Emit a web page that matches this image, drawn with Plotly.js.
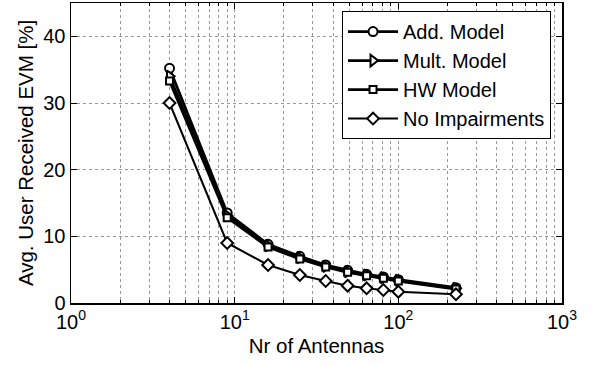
<!DOCTYPE html>
<html>
<head>
<meta charset="utf-8">
<script src="https://cdn.plot.ly/plotly-3.0.1.min.js"></script>
<style>html,body{margin:0;padding:0;background:#fff;}#chart{width:592px;height:366px;}</style>
</head>
<body>
<div id="chart"></div>
<script>
const antennas = [4, 9, 16, 25, 36, 49, 64, 81, 100, 225];
const addModel = [35.2, 13.5, 8.8, 7.0, 5.7, 4.9, 4.3, 3.9, 3.5, 2.3];
const multModel = [34.0, 13.1, 8.6, 6.8, 5.5, 4.7, 4.2, 3.8, 3.4, 2.2];
const hwModel = [33.3, 12.8, 8.4, 6.6, 5.4, 4.6, 4.1, 3.7, 3.3, 2.1];
const noImpairments = [30.0, 9.0, 5.7, 4.2, 3.3, 2.6, 2.2, 1.95, 1.7, 1.3];

const seriesNames = ['Add. Model', 'Mult. Model', 'HW Model', 'No Impairments'];
const xTickVals = [1, 10, 100, 1000];
const xTickText = ['10<sup>0</sup>', '10<sup>1</sup>', '10<sup>2</sup>', '10<sup>3</sup>'];
const xMinorVals = [2,3,4,5,6,7,8,9,20,30,40,50,60,70,80,90,200,300,400,500,600,700,800,900];
const yTickVals = [0, 10, 20, 30, 40];

const FONT = 'Liberation Sans, Arial, Helvetica, sans-serif';

function mk(name, y, symbol, lw, ms) {
  return {
    x: antennas, y: y, name: name, type: 'scatter', mode: 'lines+markers',
    line: {color: '#000', width: lw, dash: 'solid'},
    marker: {symbol: symbol, size: ms, color: '#fff', line: {color: '#000', width: 2}}
  };
}

const data = [
  mk(seriesNames[0], addModel, 'circle', 2.8, 9),
  mk(seriesNames[1], multModel, 'triangle-right', 2.8, 10),
  mk(seriesNames[2], hwModel, 'square', 2.8, 7),
  mk(seriesNames[3], noImpairments, 'diamond', 2, 9)
];

const layout = {
  width: 592, height: 366,
  margin: {l: 71, r: 30, t: 3, b: 63},
  paper_bgcolor: '#fff', plot_bgcolor: '#fff',
  font: {family: FONT, size: 20, color: '#000'},
  showlegend: true,
  legend: {
    x: 0.552, y: 0.973, xanchor: 'left', yanchor: 'top',
    bgcolor: '#fff', bordercolor: '#000', borderwidth: 1,
    font: {family: FONT, size: 20, color: '#000'},
    itemwidth: 50,
    tracegroupgap: 0
  },
  xaxis: {
    type: 'log', range: [0, 3],
    tickvals: xTickVals, ticktext: xTickText,
    ticks: 'inside', ticklen: 6, tickcolor: '#000', tickwidth: 1,
    showline: true, linecolor: '#000', linewidth: 1.5, mirror: 'ticks',
    showgrid: true, gridcolor: '#999', griddash: 'dot', gridwidth: 1,
    zeroline: false,
    minor: {tickvals: xMinorVals, ticks: 'inside', ticklen: 3, tickcolor: '#000',
            showgrid: true, gridcolor: '#999', griddash: 'dot', gridwidth: 1},
    tickfont: {family: FONT, size: 20},
    title: {text: 'Nr of Antennas', font: {family: FONT, size: 20.5}, standoff: 7}
  },
  yaxis: {
    range: [0, 45],
    tickvals: yTickVals,
    ticks: 'inside', ticklen: 6, tickcolor: '#000', tickwidth: 1,
    showline: true, linecolor: '#000', linewidth: 1.5, mirror: 'ticks',
    showgrid: true, gridcolor: '#999', griddash: 'dot', gridwidth: 1,
    zeroline: false,
    tickfont: {family: FONT, size: 20},
    title: {text: 'Avg. User Received EVM [%]', font: {family: FONT, size: 20.5}, standoff: 4}
  }
};

Plotly.newPlot('chart', data, layout, {displayModeBar: false, staticPlot: true});
</script>
</body>
</html>
